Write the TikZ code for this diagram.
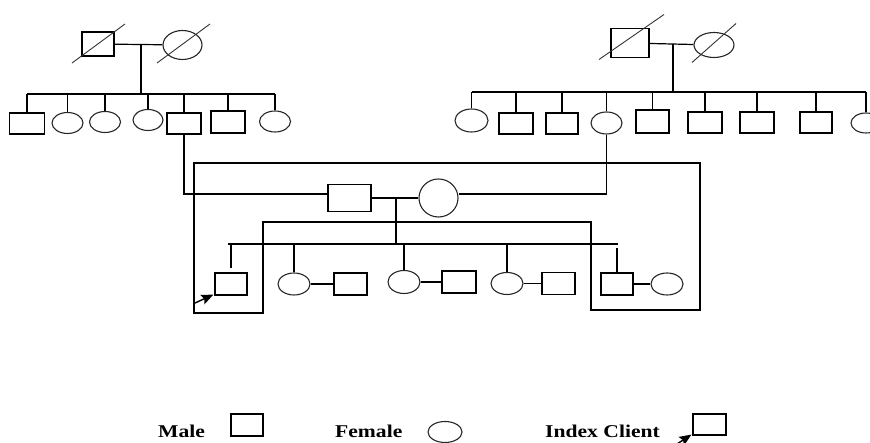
\documentclass[tikz,border=0pt]{standalone}
\usepackage{fontspec}
\setmainfont{Liberation Serif}
\usetikzlibrary{shapes.geometric,arrows.meta,calc}
\tikzset{
  pline/.style={line width=1.2pt, black},
  male/.style={draw, line width=1.2pt, rectangle, inner sep=0pt, minimum width=34pt, minimum height=21pt},
  female/.style={draw, line width=1.1pt, black!85, ellipse, inner sep=0pt, minimum width=31pt, minimum height=21pt},
  dead/.style={line width=0.9pt, black!80},
  legendtext/.style={anchor=base west, inner sep=0pt, font=\fontsize{18}{18}\selectfont\bfseries},
  idxarrow/.style={line width=1.4pt, -{Stealth[length=12pt,width=10pt,inset=2pt]}}
}
\begin{document}
\begin{tikzpicture}[x=1pt,y=-1pt]
\useasboundingbox (0,0) rectangle (870,443);

% ---------- left grandparents ----------
\node[male, minimum width=32pt, minimum height=24pt] (lgf) at (98,44) {};
\node[female, minimum width=39pt, minimum height=29pt] (lgm) at (182.5,45) {};
\draw[dead] ($(lgf.center)+(-26,19)$) -- ($(lgf.center)+(27,-20)$);
\draw[dead] ($(lgm.center)+(-25.5,18)$) -- ($(lgm.center)+(27.5,-21)$);
\draw[pline] (lgf) -- (lgm);
\coordinate (lmar) at (141,45);
\coordinate (lsib) at (141,94);
\draw[pline] (lmar) -- (lsib);

\node[male, minimum width=34.5pt] (lc1) at (27,123.5) {};
\node[female] (lc2) at (67.5,123) {};
\node[female] (lc3) at (105,122) {};
\node[female, minimum width=30pt] (lc4) at (148,120) {};
\node[male] (lc5) at (184,123.5) {};
\node[male, minimum height=22pt] (lc6) at (228,122) {};
\node[female] (lc7) at (275,121.5) {};
\draw[pline] (lc1 |- lsib) -- (lc7 |- lsib);
\foreach \c in {lc1,lc2,lc3,lc4,lc5,lc6,lc7}
  \draw[pline] (\c) -- (\c |- lsib);

% ---------- right grandparents ----------
\node[male, minimum width=38pt, minimum height=29pt] (rgf) at (630,43) {};
\node[female, minimum width=40pt, minimum height=25pt] (rgm) at (714,45) {};
\draw[dead] ($(rgf.center)+(-31,16.5)$) -- ($(rgf.center)+(34,-28.5)$);
\draw[dead] ($(rgm.center)+(-22,17.5)$) -- ($(rgm.center)+(22,-21.5)$);
\draw[pline] (rgf) -- (rgm);
\coordinate (rmar) at (673,44);
\coordinate (rsib) at (673,92);
\draw[pline] (rmar) -- (rsib);

\node[female, minimum width=33pt, minimum height=23pt] (rc1) at (471.5,120.5) {};
\node[male] (rc2) at (516,123.5) {};
\node[male, minimum width=32pt] (rc3) at (562,123.5) {};
\node[female, minimum height=22pt] (rc4) at (606.5,123) {};
\node[male, minimum width=33pt, minimum height=23pt] (rc5) at (652.5,121.5) {};
\node[male] (rc6) at (705,122.5) {};
\node[male] (rc7) at (757,122.5) {};
\node[male, minimum width=32pt] (rc8) at (816,122.5) {};
\begin{scope}
\clip (0,0) rectangle (870,443);
\node[female, minimum width=30pt, minimum height=20pt] (rc9) at (866,123) {};
\end{scope}
\draw[pline] (rc1 |- rsib) -- (rc9 |- rsib);
\foreach \c in {rc1,rc2,rc3,rc4,rc5,rc6,rc7,rc8,rc9}
  \draw[pline] (\c) -- (\c |- rsib);

% ---------- parents ----------
\node[male, minimum width=43pt, minimum height=27pt] (fa) at (349.5,198) {};
\node[female, minimum width=39pt, minimum height=38pt] (mo) at (438.5,198) {};
\draw[pline] (fa) -- (mo);
\draw[pline] (lc5.south) |- ([yshift=4pt]fa.west);
\draw[pline] (rc4.south) |- ([yshift=4pt]mo.east);
\coordinate (pmar) at (396,198);
\coordinate (psib) at (396,244);
\draw[pline] (pmar) -- (psib);
\coordinate (sl) at (228,244);
\coordinate (sr) at (618,244);
\draw[pline] (sl) -- (sr);

% ---------- children ----------
\node[male, minimum width=32pt, minimum height=22pt] (ic) at (231,284) {};
\node[female, minimum width=32pt, minimum height=22pt] (c2) at (294,284) {};
\node[male, minimum width=33pt, minimum height=22pt] (s2) at (350.5,284) {};
\node[female, minimum width=32pt, minimum height=23pt] (c3) at (404,282) {};
\node[male, minimum width=34pt, minimum height=22pt] (s3) at (459,282) {};
\node[female, minimum width=32pt, minimum height=22pt] (c4) at (507,283.5) {};
\node[male, minimum width=33pt, minimum height=22pt] (s4) at (558.5,283.5) {};
\node[male, minimum width=32pt, minimum height=22pt] (c5) at (617,284) {};
\node[female, minimum width=32pt, minimum height=22pt] (s5) at (667,284) {};
\draw[pline, shorten >=4pt] (ic |- sl) -- (ic);
\foreach \c in {c2,c3,c4}
  \draw[pline] (\c) -- (\c |- sl);
\draw[pline] ([yshift=-4pt]c5 |- sl) -- (c5);
\draw[pline] (c2) -- (s2);
\draw[pline] (c3) -- (s3);
\draw[pline] (c4) -- (s4);
\draw[pline] (c5) -- (s5);

\coordinate (iat) at (195,303);
\draw[idxarrow] (iat) -- ([shift={(-1pt,1pt)}]ic.south west);

% ---------- frame loop ----------
\coordinate (q1) at (194,163);
\coordinate (q2) at (700,163);
\coordinate (q3) at (700,310);
\coordinate (q4) at (591,310);
\coordinate (q5) at (591,222);
\coordinate (q6) at (263,222);
\coordinate (q7) at (263,313);
\coordinate (q8) at (194,313);
\draw[pline] (q1) -- (q2) -- (q3) -- (q4) -- (q5) -- (q6) -- (q7) -- (q8) -- cycle;

% ---------- legend ----------
\node[legendtext] (tmale) at (158,437) {\scalebox{1.2}[1]{Male}};
\node[male, minimum width=32pt, minimum height=22pt] (lgmale) at (247,425) {};
\node[legendtext] (tfemale) at (335,437) {\scalebox{1.2}[1]{Female}};
\node[female, minimum width=34pt, minimum height=21pt] (lgfemale) at (445,432) {};
\node[legendtext] (tindex) at (545,437) {\scalebox{1.2}[1]{Index Client}};
\node[male, minimum width=33pt, minimum height=21pt] (lgindex) at (709.5,424.5) {};
\coordinate (lgiat) at (677,444);
\draw[idxarrow] (lgiat) -- ([shift={(-1pt,1pt)}]lgindex.south west);
\end{tikzpicture}
\end{document}
